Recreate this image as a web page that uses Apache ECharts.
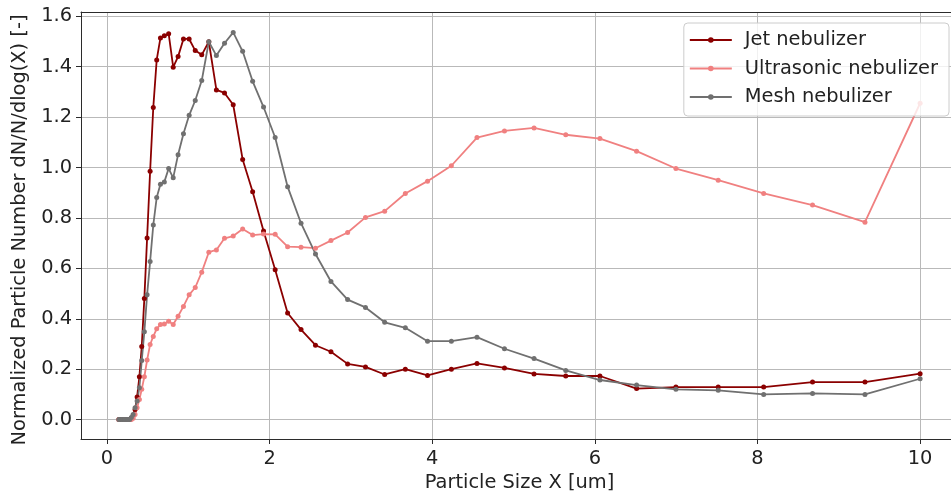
<!DOCTYPE html>
<html>
<head>
<meta charset="utf-8">
<script src="https://cdn.jsdelivr.net/npm/echarts@6/dist/echarts.min.js"></script>
<style>
  html, body { margin: 0; padding: 0; background: #fff; }
  #chart { width: 951px; height: 497px; }
</style>
</head>
<body>
<div id="chart"></div>
<script>
// Particle size bins (um), shared by all three nebulizers
const sizes = [
  0.146, 0.157, 0.168, 0.181, 0.194, 0.209, 0.224, 0.241, 0.259, 0.278,
  0.299, 0.321, 0.345, 0.370, 0.398, 0.427, 0.459, 0.493, 0.530, 0.569,
  0.611, 0.657, 0.705, 0.758, 0.814, 0.874, 0.940, 1.010, 1.085, 1.165,
  1.252, 1.345, 1.445, 1.552, 1.668, 1.791, 1.925, 2.068, 2.221, 2.386,
  2.564, 2.754, 2.959, 3.179, 3.415, 3.669, 3.942, 4.235, 4.550, 4.888,
  5.252, 5.642, 6.062, 6.513, 6.997, 7.517, 8.076, 8.677, 9.322, 10.0
];

const jet = [
  0, 0, 0, 0, 0, 0, 0, 0, 0, 0,
  0.005, 0.015, 0.04, 0.09, 0.17, 0.29, 0.48, 0.72, 0.985, 1.238,
  1.427, 1.514, 1.523, 1.531, 1.398, 1.44, 1.51, 1.51, 1.464, 1.447,
  1.499, 1.308, 1.296, 1.249, 1.032, 0.904, 0.748, 0.594, 0.423, 0.357,
  0.295, 0.269, 0.221, 0.209, 0.179, 0.2, 0.175, 0.2, 0.223, 0.205,
  0.181, 0.173, 0.173, 0.123, 0.129, 0.129, 0.129, 0.149, 0.149, 0.182
];

const ultrasonic = [
  0, 0, 0, 0, 0, 0, 0, 0, 0, 0,
  0, 0.005, 0.02, 0.047, 0.08, 0.12, 0.17, 0.236, 0.298, 0.33,
  0.36, 0.377, 0.379, 0.39, 0.377, 0.41, 0.449, 0.495, 0.524, 0.585,
  0.664, 0.673, 0.719, 0.728, 0.756, 0.732, 0.736, 0.735, 0.686, 0.684,
  0.68, 0.71, 0.742, 0.802, 0.827, 0.897, 0.946, 1.007, 1.119, 1.145,
  1.157, 1.13, 1.115, 1.065, 0.996, 0.95, 0.897, 0.851, 0.783, 1.255
];

const mesh = [
  0, 0, 0, 0, 0, 0, 0, 0, 0, 0,
  0.008, 0.02, 0.047, 0.074, 0.126, 0.234, 0.348, 0.495, 0.627, 0.772,
  0.881, 0.934, 0.943, 0.996, 0.959, 1.051, 1.134, 1.207, 1.266, 1.345,
  1.499, 1.444, 1.493, 1.536, 1.461, 1.342, 1.24, 1.119, 0.924, 0.779,
  0.657, 0.548, 0.476, 0.445, 0.386, 0.364, 0.311, 0.311, 0.327, 0.281,
  0.242, 0.195, 0.157, 0.137, 0.12, 0.116, 0.1, 0.104, 0.1, 0.162
];

const seriesNames = ['Jet nebulizer', 'Ultrasonic nebulizer', 'Mesh nebulizer'];
const seriesColors = ['#8b0000', '#f08080', '#707070'];
const seriesValues = [jet, ultrasonic, mesh];

const FONT = 'DejaVu Sans';
const FS = 19.4;
const AXIS_COLOR = '#2b2b2b';

const chart = echarts.init(document.getElementById('chart'), null, { renderer: 'canvas' });

chart.setOption({
  animation: false,
  backgroundColor: '#fff',
  // plot area runs off the right edge of the canvas, so no right frame line
  grid: { left: 81, top: 12, right: 0, bottom: 55, show: false },
  legend: {
    orient: 'vertical',
    right: 2, top: 23,
    padding: [7, 11, 9, 5],
    itemWidth: 42, itemHeight: 7, itemGap: 8.5,
    backgroundColor: 'rgba(255,255,255,0.8)',
    borderColor: '#cccccc', borderWidth: 1, borderRadius: 4,
    textStyle: { fontFamily: FONT, fontSize: FS, color: '#222', lineHeight: 20, padding: [0, 0, 0, 8] },
    data: seriesNames
  },
  xAxis: [{
    type: 'value',
    min: -0.32, max: 10.38,
    splitNumber: 5,
    name: 'Particle Size X [um]',
    nameLocation: 'middle', nameGap: 34,
    nameTextStyle: { fontFamily: FONT, fontSize: FS, color: '#222', padding: [0, 0, 0, 7] },
    axisLine: { show: true, onZero: false, lineStyle: { color: AXIS_COLOR, width: 1 } },
    axisTick: { show: true, inside: false, length: 5, lineStyle: { color: AXIS_COLOR } },
    axisLabel: {
      fontFamily: FONT, fontSize: FS, color: '#222', margin: 10,
      showMinLabel: false, showMaxLabel: false,
      formatter: v => String(Math.round(v))
    },
    splitLine: { show: true, lineStyle: { color: '#b9b9b9', width: 1 } }
  }, {
    // top frame line
    type: 'value',
    position: 'top',
    min: -0.32, max: 10.38,
    axisLine: { show: true, onZero: false, lineStyle: { color: AXIS_COLOR, width: 1 } },
    axisTick: { show: false },
    axisLabel: { show: false },
    splitLine: { show: false }
  }],
  yAxis: {
    type: 'value',
    min: -0.077, max: 1.617,
    splitNumber: 8,
    name: 'Normalized Particle Number dN/N/dlog(X) [-]',
    nameLocation: 'middle', nameGap: 52,
    nameTextStyle: { fontFamily: FONT, fontSize: FS, color: '#222', padding: [0, 9, 0, 0] },
    axisLine: { show: true, onZero: false, lineStyle: { color: AXIS_COLOR, width: 1 } },
    axisTick: { show: true, inside: false, length: 5, lineStyle: { color: AXIS_COLOR } },
    axisLabel: {
      fontFamily: FONT, fontSize: FS, color: '#222', margin: 9,
      showMinLabel: false, showMaxLabel: false,
      formatter: v => v.toFixed(1)
    },
    splitLine: { show: true, lineStyle: { color: '#b9b9b9', width: 1 } }
  },
  series: seriesNames.map((name, i) => ({
    name,
    type: 'line',
    xAxisIndex: 0,
    data: sizes.map((x, k) => [x, seriesValues[i][k]]),
    symbol: 'circle',
    symbolSize: 5,
    showSymbol: true,
    color: seriesColors[i],
    lineStyle: { color: seriesColors[i], width: 1.8 },
    itemStyle: { color: seriesColors[i] },
    emphasis: { disabled: true }
  }))
});
</script>
</body>
</html>
